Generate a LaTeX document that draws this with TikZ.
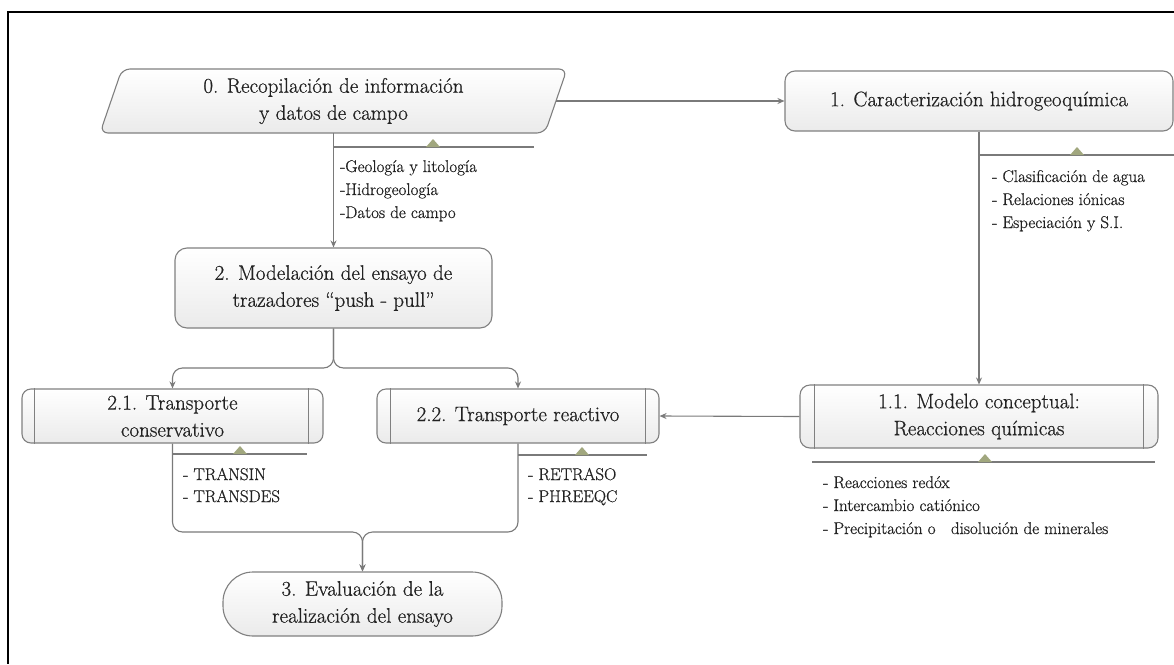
\documentclass[tikz,border=0pt]{standalone}
\usepackage{fontspec}
\newfontfamily\heavyserif{Latin Modern Roman}[FakeBold=0.6]
\usetikzlibrary{arrows.meta,calc}
\definecolor{linec}{HTML}{7A7A7A}
\definecolor{bordc}{HTML}{808080}
\definecolor{txtc}{HTML}{222222}
\definecolor{tric}{HTML}{A1A77E}
\tikzset{
  box/.style={draw=bordc, line width=1.1pt, top color=white, bottom color=gray!16,
    text=txtc, font=\heavyserif\fontsize{21}{27}\selectfont, align=center, inner sep=0pt},
  plain/.style={text=txtc, font=\heavyserif\fontsize{21}{27}\selectfont, align=center, inner sep=0pt},
  annot/.style={text=txtc, font=\heavyserif\fontsize{17}{23}\selectfont, anchor=base west, inner sep=0pt},
  conn/.style={draw=linec, line width=1.1pt, -{Stealth[length=7pt,width=6pt]}},
  wire/.style={draw=linec, line width=1.1pt},
  inner/.style={draw=bordc, line width=1.1pt},
  tri/.style={fill=tric},
}
\begin{document}
\begin{tikzpicture}[x=1pt,y=-1pt]
\useasboundingbox (0,0) rectangle (1174,664);
\fill[white] (0,0) rectangle (1174,664);
\draw[line width=2pt, black] (1174,12) -- (8,12) -- (8,664);

% node 0 (parallelogram)
\draw[draw=bordc, line width=1.1pt, top color=white, bottom color=gray!16, rounded corners=8pt]
  (100,133) -- (122,69) -- (567,69) -- (545,133) -- cycle;
\node[plain, minimum width=445pt, minimum height=64pt] (n0) at (333.5,101)
  {0. Recopilación de información\\y datos de campo};

% node 1
\node[box, rounded corners=10pt, minimum width=388pt, minimum height=60pt] (n1) at (979,101)
  {1. Caracterización hidrogeoquímica};

% node 2
\node[box, rounded corners=12pt, minimum width=317pt, minimum height=80pt] (n2) at (333.5,288)
  {2. Modelación del ensayo de\\trazadores “push - pull”};

% node 2.1
\node[box, rounded corners=9pt, minimum width=301pt, minimum height=54pt] (n21) at (172.5,416)
  {2.1. Transporte\\conservativo};
\draw[inner] ([xshift=13pt]n21.north west) -- ([xshift=13pt]n21.south west);
\draw[inner] ([xshift=-15pt]n21.north east) -- ([xshift=-15pt]n21.south east);

% node 2.2
\node[box, rounded corners=9pt, minimum width=282pt, minimum height=54pt] (n22) at (518,416)
  {2.2. Transporte reactivo};
\draw[inner] ([xshift=14pt]n22.north west) -- ([xshift=14pt]n22.south west);
\draw[inner] ([xshift=-14pt]n22.north east) -- ([xshift=-14pt]n22.south east);

% node 1.1
\node[box, rounded corners=10pt, minimum width=358pt, minimum height=63pt] (n11) at (979,416.5)
  {1.1. Modelo conceptual:\\Reacciones químicas};
\draw[inner] ([xshift=15pt]n11.north west) -- ([xshift=15pt]n11.south west);
\draw[inner] ([xshift=-15pt]n11.north east) -- ([xshift=-15pt]n11.south east);

% node 3
\node[box, rounded corners=30pt, minimum width=279pt, minimum height=64pt] (n3) at (362.5,604)
  {3. Evaluación de la\\realización del ensayo};

% connectors
\draw[conn] (n0.east) -- (n1.west);
\draw[conn] (n0.south) -- (n2.north);
\draw[conn] (n1.south) -- (n11.north);
\draw[conn] (n11.west) -- (n22.east);
\coordinate (split) at (333.5,368);
\draw[conn, rounded corners=10pt] (n2.south) -- (split) -| (n21.north);
\draw[conn, rounded corners=10pt] (n2.south) -- (split) -| (n22.north);
\coordinate (merge) at (362.5,532);
\draw[conn, rounded corners=10pt] (n21.south) |- (merge) -- (n3.north);
\draw[conn, rounded corners=10pt] (n22.south) |- (merge) -- (n3.north);

% annotation lines and triangles
\draw[wire] (333.5,147) -- (534,147);
\fill[tri] (426,147) -- (433,139) -- (440,147) -- cycle;
\draw[wire] (979,155) -- (1174,155);
\fill[tri] (1070,155) -- (1077,147) -- (1084,155) -- cycle;
\draw[wire] (172.5,454) -- (307,454);
\fill[tri] (233,454) -- (240,446) -- (247,454) -- cycle;
\draw[wire] (518,455) -- (647,455);
\fill[tri] (575,455) -- (582,447) -- (589,455) -- cycle;
\draw[wire] (812,462) -- (1155,462);
\fill[tri] (978,462) -- (985,454) -- (992,462) -- cycle;

% annotation texts
\node[annot] (t0a) at (340,172) {-Geología y litología};
\node[annot] (t0b) at (340,195) {-Hidrogeología};
\node[annot] (t0c) at (340,218) {-Datos de campo};

\node[annot] (t1a) at (992,182) {- Clasificación de agua};
\node[annot] (t1b) at (992,205) {- Relaciones iónicas};
\node[annot] (t1c) at (992,228) {- Especiación y S.I.};

\node[annot] (t21a) at (183,480) {- TRANSIN};
\node[annot] (t21b) at (183,502) {- TRANSDES};

\node[annot] (t22a) at (528,480) {- RETRASO};
\node[annot] (t22b) at (528,502) {- PHREEQC};

\node[annot] (t11a) at (823,488) {- Reacciones redóx};
\node[annot] (t11b) at (823,511) {- Intercambio catiónico};
\node[annot] (t11c) at (823,534) {- Precipitación o\ \ \ disolución de minerales};
\end{tikzpicture}
\end{document}
